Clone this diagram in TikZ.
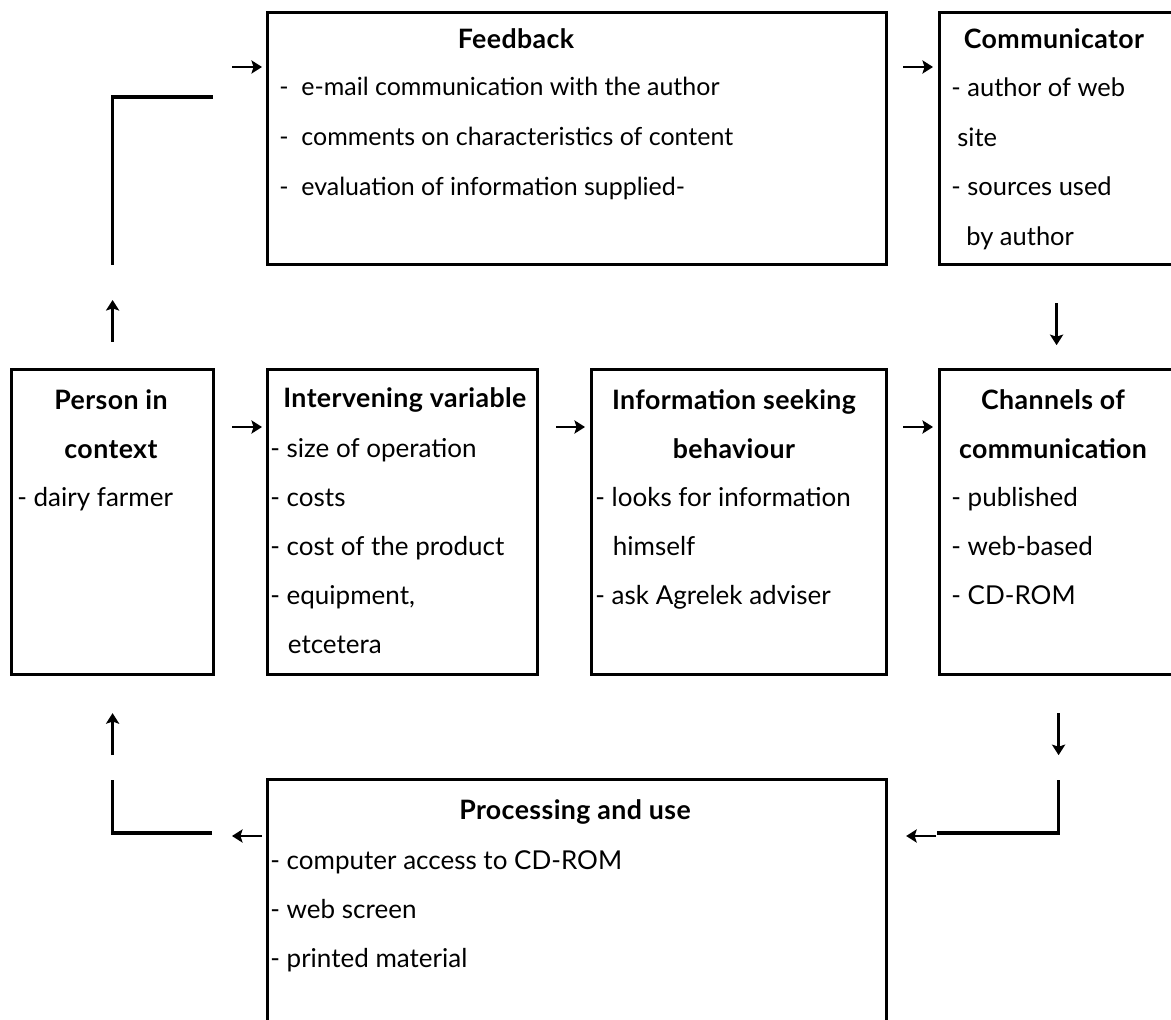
\documentclass[tikz,border=0pt]{standalone}
\usepackage{fontspec}
\setmainfont{Lato}
\newfontfamily\ttlfont{Lato}[LetterSpace=1.5]
\usepackage{tikz}
\usetikzlibrary{arrows.meta,positioning}
\tikzset{
  box/.style={draw, line width=1.8pt, anchor=north west, inner sep=0pt},
  ttl/.style={font=\ttlfont\bfseries\fontsize{15.2}{27.9}\selectfont, inner sep=0pt, align=center},
  itm/.style={font=\fontsize{14.8}{27.9}\selectfont, inner sep=0pt, align=left, anchor=north west},
  arr/.style={line width=1.6pt, -{Stealth[length=6pt,width=7.5pt,inset=1.2pt]}},
  conn/.style={line width=1.8pt},
}

\begin{document}
\begin{tikzpicture}
  \useasboundingbox (0,0) rectangle (23.42,20.38);
  % boxes
  \node[box, minimum width=12.38cm, minimum height=5.04cm] (fb) at (5.32,20.16) {};
  \node[box, minimum width=4.84cm, minimum height=5.04cm] (com) at (18.76,20.16) {};
  \node[box, minimum width=4.04cm, minimum height=6.10cm] (per) at (0.20,13.02) {};
  \node[box, minimum width=5.40cm, minimum height=6.10cm] (iv) at (5.32,13.02) {};
  \node[box, minimum width=5.90cm, minimum height=6.10cm] (isb) at (11.80,13.02) {};
  \node[box, minimum width=4.84cm, minimum height=6.10cm] (ch) at (18.76,13.02) {};
  \node[box, minimum width=12.38cm, minimum height=5.04cm] (pu) at (5.32,4.82) {};

  % texts
  \node[ttl, anchor=base] (fbT) at (10.32,19.40) {Feedback};
  \node[itm, font=\fontsize{14.2}{28.4}\selectfont] (fbL) at (5.58,18.84) {-\ \ e-mail communication with the author\\
    -\ \ comments on characteristics of content\\
    -\ \ evaluation of information supplied-};
  \node[ttl, anchor=base] (comT) at (21.08,19.40) {Communicator};
  \node[itm, font=\fontsize{14.5}{28.4}\selectfont] (comL) at (19.02,18.84) {- author of web\\
    \hspace{0.12cm}site\\
    - sources used\\
    \hspace{0.3cm}by author};
  \node[ttl, anchor=north] (perT) at (2.22,12.60) {Person in\\context};
  \node[itm] (perL) at (0.34,10.64) {- dairy farmer};
  \node[ttl, anchor=base west] (ivT) at (5.66,12.22) {Intervening variable};
  \node[itm] (ivL) at (5.40,11.62) {- size of operation\\
    - costs\\
    - cost of the product\\
    - equipment,\\
    \hspace{0.35cm}etcetera};
  \node[ttl, anchor=north] (isbT) at (14.68,12.60) {Information seeking\\behaviour};
  \node[itm] (isbL) at (11.90,10.64) {- looks for information\\
    \hspace{0.35cm}himself\\
    - ask Agrelek adviser};
  \node[ttl, anchor=north] (chT) at (21.06,12.60) {Channels of\\communication};
  \node[itm] (chL) at (19.02,10.64) {- published\\
    - web-based\\
    - CD-ROM};
  \node[ttl, anchor=base] (puT) at (11.50,4.00) {Processing and use};
  \node[itm] (puL) at (5.40,3.38) {- computer access to CD-ROM\\
    - web screen\\
    - printed material};

  % arrows
  \draw[arr] ([shift={(-0.68,-1.12)}]fb.north west) -- ([shift={(-0.08,-1.12)}]fb.north west);
  \draw[arr] ([shift={(-0.70,-1.12)}]com.north west) -- ([shift={(-0.10,-1.12)}]com.north west);
  \draw[arr] ([shift={(-0.68,-1.18)}]iv.north west) -- ([shift={(-0.08,-1.18)}]iv.north west);
  \draw[arr] ([shift={(-0.68,-1.18)}]isb.north west) -- ([shift={(-0.10,-1.18)}]isb.north west);
  \draw[arr] ([shift={(-0.70,-1.18)}]ch.north west) -- ([shift={(-0.10,-1.18)}]ch.north west);
  \draw[arr] ([yshift=0.52cm]per.north) -- ([yshift=1.36cm]per.north);
  \draw[arr] ([shift={(-0.08,-0.74)}]com.south) -- ([shift={(-0.08,-1.58)}]com.south);
  \draw[arr] ([shift={(-0.04,-0.74)}]ch.south) -- ([shift={(-0.04,-1.58)}]ch.south);
  \draw[arr] ([shift={(0.96,-1.16)}]pu.north east) -- ([shift={(0.36,-1.16)}]pu.north east);
  \draw[arr] ([shift={(-0.08,-1.16)}]pu.north west) -- ([shift={(-0.68,-1.16)}]pu.north west);
  \draw[arr] ([yshift=-1.58cm]per.south) -- ([yshift=-0.74cm]per.south);

  % feedback loops
  \coordinate (fbIn) at (4.26,18.44);
  \coordinate (puOut) at (18.74,3.72);
  \coordinate (puIn) at (4.24,3.72);
  \draw[conn] ([yshift=2.06cm]per.north) |- (fbIn);
  \draw[conn] ([shift={(-0.04,-2.08)}]ch.south) |- (puOut);
  \draw[conn] (puIn) -| ([yshift=-2.08cm]per.south);
\end{tikzpicture}
\end{document}
